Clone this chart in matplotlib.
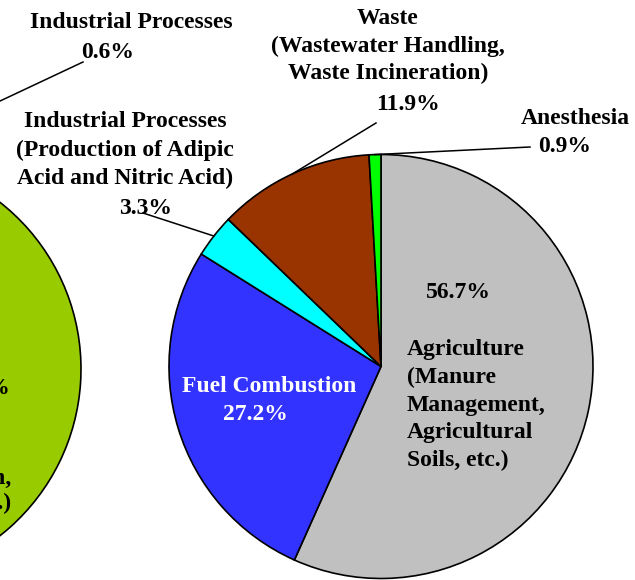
import matplotlib
matplotlib.use('Agg')
import matplotlib.pyplot as plt
import numpy as np

W, H = 635, 580

# right pie, clockwise from 12 o'clock
labels = ['Agriculture\n(Manure\nManagement,\nAgricultural\nSoils, etc.)',
          'Fuel Combustion',
          'Industrial Processes\n(Production of Adipic\nAcid and Nitric Acid)',
          'Waste\n(Wastewater Handling,\nWaste Incineration)',
          'Anesthesia']
shares = [56.7, 27.2, 3.3, 11.9, 0.9]
colors = ['#C0C0C0', '#3333FF', '#00FFFF', '#993300', '#00FF00']

# left pie, only its right edge is in frame
left_labels = ['Industrial Processes', 'Agriculture (Enteric Fermentation,\nRice Cultivation, etc.)']
left_shares = [0.6, 99.4]
left_colors = ['#00FFFF', '#99CC00']

plt.rcParams['font.family'] = ['Liberation Serif', 'DejaVu Serif']
plt.rcParams['font.weight'] = 'bold'
plt.rcParams['font.size'] = 17

fig = plt.figure(figsize=(W / 100, H / 100), dpi=100)
ax = fig.add_axes([0, 0, 1, 1])


def py(y):
    return H - y


R = 212
wedges, _ = ax.pie(shares, colors=colors, startangle=90, counterclock=False,
                   center=(381, py(366.5)), radius=R, frame=True,
                   wedgeprops=dict(edgecolor='black', linewidth=1.2))
lwedges, _ = ax.pie(left_shares, colors=left_colors, startangle=88, counterclock=False,
                    center=(-131, py(369)), radius=R, frame=True,
                    wedgeprops=dict(edgecolor='black', linewidth=1.2))
ax.set_xlim(0, W)
ax.set_ylim(0, H)
ax.set_aspect('equal')
ax.axis('off')


def edge_point(w):
    a = np.deg2rad((w.theta1 + w.theta2) / 2)
    cx, cy = w.center
    return cx + w.r * np.cos(a), cy + w.r * np.sin(a)


def leader(w, x, y):
    ex, ey = edge_point(w)
    ax.plot([x, ex], [py(y), ey], color='black', lw=1.1)


def pct(v):
    return '{:.1f}%'.format(v)


# right pie labels
ax.text(407, py(405), labels[0], ha='left', va='center', linespacing=1.42)
ax.text(458, py(292), pct(shares[0]), ha='center', va='center')
ax.text(269, py(387), labels[1], ha='center', va='center', color='white')
ax.text(255, py(415), pct(shares[1]), ha='center', va='center', color='white')
ax.text(125, py(150), labels[2], ha='center', va='center', linespacing=1.46)
ax.text(146, py(208), pct(shares[2]), ha='center', va='center')
leader(wedges[2], 143, 213)
ax.text(388, py(46), labels[3], ha='center', va='center', linespacing=1.37)
ax.text(408, py(104), pct(shares[3]), ha='center', va='center')
leader(wedges[3], 376, 123)
ax.text(575, py(118), labels[4], ha='center', va='center')
ax.text(565, py(147), pct(shares[4]), ha='center', va='center')
leader(wedges[4], 530, 147)

# left pie labels
ax.text(131, py(22), left_labels[0], ha='center', va='center')
ax.text(108, py(52), pct(left_shares[0]), ha='center', va='center')
leader(lwedges[0], 83, 62)
ax.text(10, py(388), pct(left_shares[1]), ha='right', va='center')
ax.text(11, py(491), left_labels[1], ha='right', va='center', multialignment='right',
        linespacing=1.25)

fig.savefig('out.png', dpi=100)
